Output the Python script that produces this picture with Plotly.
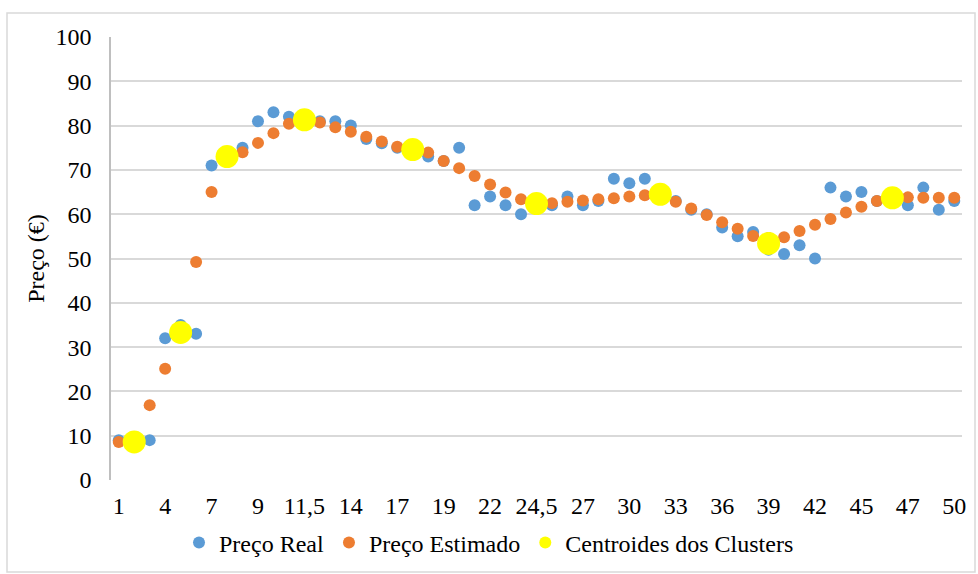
import plotly.graph_objects as go

# Período (eixo das categorias) e preços observados / estimados
periodos = list(range(1, 51))

preco_real = [
    9, 8, 9, 32, 35, 33, 71, 75, 81, 83,
    82, 81, 81, 80, 77, 76, 75, 73, 72, 75,
    62, 64, 62, 60, 62, 64, 62, 63, 68, 67,
    68, 64, 63, 61, 60, 57, 55, 56, 52, 51,
    53, 50, 66, 64, 65, 63, 62, 66, 61, 63,
]

preco_estimado = [
    8.6, 9.0, 16.9, 25.1, 34.0, 49.2, 65.0, 74.0, 76.1, 78.3,
    80.4, 80.7, 79.6, 78.6, 77.5, 76.4, 75.2, 73.9, 72.0, 70.4,
    68.6, 66.7, 64.9, 63.4, 62.5, 62.8, 63.1, 63.4, 63.6, 64.0,
    64.3, 64.4, 62.8, 61.3, 59.8, 58.2, 56.7, 55.1, 54.6, 54.8,
    56.2, 57.6, 58.9, 60.4, 61.7, 63.0, 63.8, 63.7, 63.7, 63.7,
]

# Centroides dos clusters (posição no período e preço)
centroide_x = [2, 5, 7.5, 11.5, 17.5, 24.5, 32, 39, 46.5]
centroide_y = [8.6, 33.3, 73.0, 81.3, 74.6, 62.4, 64.5, 53.4, 63.7]

FONT = "Liberation Serif, Times New Roman, serif"
FS = 24


def rotulo(v):
    s = ("%g" % v)
    return s.replace(".", ",")


categorias = [rotulo(v) for v in sorted(set(periodos) | set(centroide_x))]
ticks_x = categorias[::3]

fig = go.Figure()

fig.add_trace(go.Scatter(
    x=[rotulo(v) for v in periodos], y=preco_real,
    mode="markers", name="Preço Real",
    marker=dict(color="#5B9BD5", size=12, line=dict(width=0)),
))
fig.add_trace(go.Scatter(
    x=[rotulo(v) for v in periodos], y=preco_estimado,
    mode="markers", name="Preço Estimado",
    marker=dict(color="#ED7D31", size=12, line=dict(width=0)),
))
fig.add_trace(go.Scatter(
    x=[rotulo(v) for v in centroide_x], y=centroide_y,
    mode="markers", name="Centroides dos Clusters",
    marker=dict(color="#FFFF00", size=23, line=dict(width=0)),
))

fig.update_layout(
    width=978, height=574,
    margin=dict(l=111, r=16, t=37, b=94, autoexpand=False),
    paper_bgcolor="white", plot_bgcolor="white",
    font=dict(family=FONT, size=FS, color="black"),
    showlegend=True,
    legend=dict(
        orientation="h",
        xref="container", x=0.5, xanchor="center",
        yref="container", y=0.054, yanchor="middle",
        font=dict(family=FONT, size=FS, color="black"),
        itemsizing="constant", itemwidth=30,
        bgcolor="rgba(0,0,0,0)",
    ),
    xaxis=dict(
        type="category",
        categoryorder="array", categoryarray=categorias,
        range=[-0.5, len(categorias) - 0.5],
        tickmode="array", tickvals=ticks_x, ticktext=ticks_x,
        showgrid=False, zeroline=False, showline=False,
        ticks="", ticklabelstandoff=9,
        tickfont=dict(family=FONT, size=FS, color="black"),
    ),
    yaxis=dict(
        range=[0, 100], dtick=10, tick0=0,
        showgrid=True, gridcolor="#D9D9D9", gridwidth=1.5,
        zeroline=False,
        showline=True, linecolor="#BFBFBF", linewidth=1.5,
        ticks="", ticklabelstandoff=13,
        tickfont=dict(family=FONT, size=FS, color="black"),
        title=dict(text="Preço (€)", font=dict(family=FONT, size=FS, color="black"), standoff=4),
    ),
    shapes=[dict(
        type="rect", xref="paper", yref="paper",
        x0=(7 - 111) / 851, x1=(975 - 111) / 851,
        y0=(480 - 572) / 443, y1=(480 - 13) / 443,
        line=dict(color="#D9D9D9", width=1.5), fillcolor="rgba(0,0,0,0)",
        layer="below",
    )],
)

fig.write_html("out.html")
